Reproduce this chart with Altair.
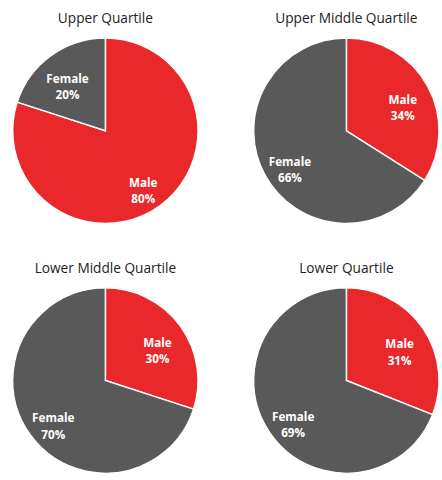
import altair as alt
import pandas as pd

quartiles = ["Upper Quartile", "Upper Middle Quartile", "Lower Middle Quartile", "Lower Quartile"]
male_pct = [80, 34, 30, 31]
female_pct = [20, 66, 70, 69]
genders = ["Male", "Female"]
colors = ["#E8282B", "#595959"]

FONT = "Open Sans"


def pie(i):
    df = pd.DataFrame({
        "gender": genders,
        "pct": [male_pct[i], female_pct[i]],
        "order": [0, 1],
    })
    base = alt.Chart(df).encode(
        theta=alt.Theta("pct:Q", stack=True),
        order=alt.Order("order:Q"),
    )
    arc = base.mark_arc(stroke="white", strokeWidth=1.5).encode(
        color=alt.Color("gender:N", scale=alt.Scale(domain=genders, range=colors), legend=None)
    )
    text = base.transform_calculate(
        label="[datum.gender, datum.pct + '%']"
    ).mark_text(
        radius=66, color="white", fontWeight="bold", fontSize=12, font=FONT, lineHeight=17,
        baseline="middle", align="center"
    ).encode(text="label:N")
    return alt.layer(arc, text).properties(
        width=190, height=190,
        title=alt.TitleParams(quartiles[i], font=FONT, fontSize=14, fontWeight="normal",
                              color="#222222", offset=9, anchor="middle"),
    )


row1 = alt.hconcat(pie(0), pie(1), spacing=51)
row2 = alt.hconcat(pie(2), pie(3), spacing=51)
chart = alt.vconcat(row1, row2, spacing=37).properties(
    padding={"left": 10, "top": 7, "right": 0, "bottom": 0},
    background="white",
).configure_view(stroke=None)

chart.save("out.html", embed_options={"renderer": "svg", "actions": False})
